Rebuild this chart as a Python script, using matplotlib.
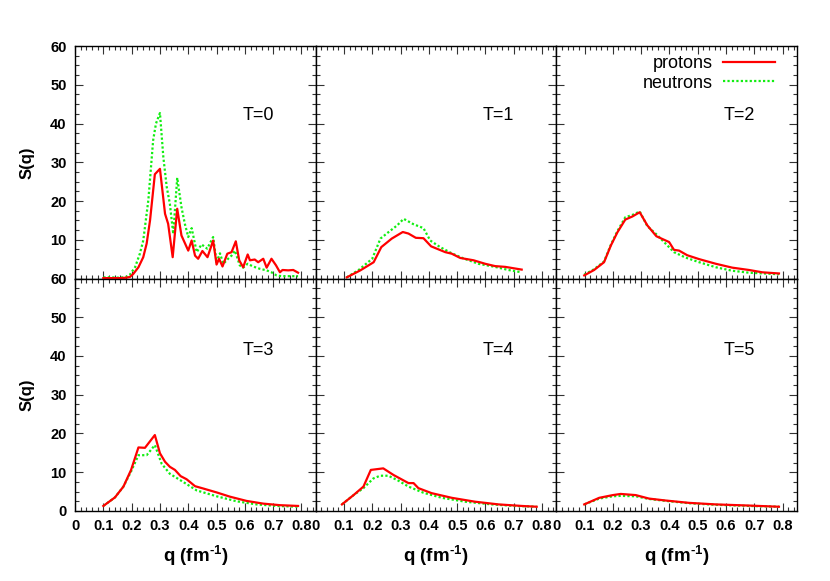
import numpy as np
import matplotlib
matplotlib.use("Agg")
import matplotlib.pyplot as plt
from matplotlib.ticker import MultipleLocator

plt.rcParams['font.family'] = ['Liberation Sans', 'DejaVu Sans']
plt.rcParams['mathtext.fontset'] = 'custom'
plt.rcParams['mathtext.rm'] = 'Liberation Sans:bold'
plt.rcParams['mathtext.bf'] = 'Liberation Sans:bold'

temps = ["T=0", "T=1", "T=2", "T=3", "T=4", "T=5"]

# protons: (q, S(q)) per temperature
q_p0 = [0.10, 0.13, 0.16, 0.18, 0.194, 0.206, 0.224, 0.241, 0.253, 0.265, 0.282, 0.30, 0.318, 0.329, 0.345,
        0.361, 0.376, 0.40, 0.412, 0.424, 0.435, 0.45, 0.468, 0.488, 0.50, 0.509, 0.521, 0.538, 0.553,
        0.568, 0.58, 0.594, 0.61, 0.618, 0.635, 0.647, 0.665, 0.677, 0.694, 0.71, 0.724, 0.733, 0.753,
        0.771, 0.788]
s_p0 = [0.1, 0.1, 0.1, 0.2, 0.4, 1.2, 2.9, 5.5, 9.0, 15.0, 26.9, 28.3, 16.7, 14.1, 5.5,
        18.0, 11.1, 7.2, 9.8, 5.9, 5.1, 7.1, 5.5, 9.8, 3.6, 5.1, 3.1, 6.4, 6.8,
        9.6, 4.7, 2.9, 6.2, 4.7, 4.9, 4.2, 5.1, 2.8, 5.1, 3.4, 1.6, 2.2, 2.1,
        2.2, 1.5]
q_p1 = [0.11, 0.158, 0.205, 0.232, 0.269, 0.308, 0.328, 0.354, 0.381, 0.408, 0.458, 0.481, 0.511, 0.558,
        0.599, 0.634, 0.67, 0.728]
s_p1 = [0.3, 2.1, 4.2, 8.1, 10.3, 12.0, 11.6, 10.5, 10.4, 8.3, 6.8, 6.4, 5.3, 4.7,
        3.8, 3.2, 3.0, 2.3]
q_p2 = [0.099, 0.134, 0.169, 0.193, 0.216, 0.244, 0.269, 0.295, 0.322, 0.354, 0.381, 0.399, 0.416, 0.434,
        0.463, 0.505, 0.564, 0.622, 0.681, 0.728, 0.787]
s_p2 = [0.8, 2.2, 4.2, 8.5, 11.9, 15.2, 16.0, 17.1, 13.7, 10.9, 10.0, 9.4, 7.4, 7.2,
        6.0, 5.0, 3.8, 2.8, 2.2, 1.6, 1.3]
q_p3 = [0.10, 0.141, 0.171, 0.198, 0.224, 0.247, 0.282, 0.30, 0.318, 0.335, 0.353, 0.373, 0.394, 0.424,
        0.453, 0.50, 0.547, 0.606, 0.665, 0.724, 0.788]
s_p3 = [1.3, 3.5, 6.3, 10.6, 16.4, 16.3, 19.6, 14.9, 12.7, 11.4, 10.6, 9.0, 8.2, 6.4,
        5.8, 4.8, 3.7, 2.6, 1.9, 1.5, 1.3]
q_p4 = [0.093, 0.134, 0.169, 0.195, 0.239, 0.275, 0.328, 0.346, 0.363, 0.41, 0.481, 0.563, 0.646, 0.728,
        0.781]
s_p4 = [1.7, 4.1, 6.3, 10.6, 11.0, 9.3, 7.2, 7.2, 5.9, 4.6, 3.4, 2.4, 1.7, 1.3,
        1.1]
q_p5 = [0.099, 0.152, 0.20, 0.228, 0.281, 0.328, 0.387, 0.469, 0.563, 0.681, 0.787]
s_p5 = [1.7, 3.4, 4.1, 4.4, 4.1, 3.2, 2.7, 2.1, 1.7, 1.4, 1.1]

# neutrons
q_n0 = [0.10, 0.13, 0.16, 0.18, 0.194, 0.212, 0.229, 0.241, 0.259, 0.276, 0.286, 0.30, 0.312, 0.324,
        0.335, 0.347, 0.361, 0.376, 0.388, 0.40, 0.412, 0.43, 0.447, 0.467, 0.488, 0.50, 0.512, 0.524,
        0.541, 0.553, 0.565, 0.582, 0.594, 0.61, 0.629, 0.653, 0.677, 0.694, 0.712, 0.729, 0.759, 0.788]
s_n0 = [0.3, 0.3, 0.2, 0.4, 1.0, 2.9, 6.4, 9.8, 20.2, 35.7, 40.0, 42.7, 31.3, 23.6,
        19.3, 11.5, 26.0, 18.4, 14.1, 10.7, 13.0, 6.8, 8.8, 7.7, 10.7, 4.2, 6.5, 3.8,
        5.1, 5.9, 7.2, 3.4, 2.8, 3.8, 3.1, 2.5, 2.1, 1.6, 0.8, 0.6, 0.6, 0.6]
q_n1 = [0.11, 0.152, 0.20, 0.229, 0.258, 0.288, 0.311, 0.346, 0.381, 0.405, 0.44, 0.481, 0.522, 0.575,
        0.634, 0.681, 0.728]
s_n1 = [0.3, 2.2, 5.1, 10.3, 12.0, 13.7, 15.4, 14.0, 13.0, 9.8, 8.1, 6.5, 5.2, 3.8,
        3.0, 2.2, 1.6]
q_n2 = [0.099, 0.134, 0.169, 0.193, 0.216, 0.244, 0.269, 0.295, 0.322, 0.354, 0.381, 0.416, 0.457, 0.505,
        0.564, 0.622, 0.681, 0.787]
s_n2 = [1.0, 2.4, 4.4, 8.7, 12.2, 15.8, 16.4, 17.3, 13.5, 11.4, 9.4, 6.8, 5.4, 4.2,
        2.9, 2.0, 1.5, 1.1]
q_n3 = [0.10, 0.141, 0.171, 0.198, 0.224, 0.253, 0.282, 0.306, 0.335, 0.382, 0.43, 0.50, 0.571, 0.641,
        0.712, 0.788]
s_n3 = [1.3, 3.5, 6.3, 10.2, 14.4, 14.4, 17.0, 12.2, 9.6, 7.5, 5.3, 3.8, 2.5, 1.7,
        1.3, 1.1]
q_n4 = [0.093, 0.134, 0.169, 0.204, 0.228, 0.257, 0.293, 0.328, 0.381, 0.446, 0.528, 0.622, 0.705, 0.781]
s_n4 = [1.7, 4.1, 5.9, 8.4, 9.1, 9.1, 7.8, 6.3, 4.7, 3.4, 2.4, 1.7, 1.3, 1.1]
q_n5 = [0.099, 0.152, 0.20, 0.228, 0.281, 0.328, 0.387, 0.469, 0.563, 0.681, 0.787]
s_n5 = [1.7, 3.2, 3.8, 3.9, 3.8, 3.1, 2.6, 2.0, 1.6, 1.3, 1.1]

protons = [(q_p0, s_p0), (q_p1, s_p1), (q_p2, s_p2), (q_p3, s_p3), (q_p4, s_p4), (q_p5, s_p5)]
neutrons = [(q_n0, s_n0), (q_n1, s_n1), (q_n2, s_n2), (q_n3, s_n3), (q_n4, s_n4), (q_n5, s_n5)]

xticks = [0, 0.1, 0.2, 0.3, 0.4, 0.5, 0.6, 0.7, 0.8]
yticks = [0, 10, 20, 30, 40, 50, 60]

fig, axes = plt.subplots(2, 3, figsize=(8.3, 5.81), dpi=100)
fig.subplots_adjust(left=0.0904, right=0.960, top=0.9208, bottom=0.1205, wspace=0, hspace=0)

for i, ax in enumerate(axes.flat):
    row, col = divmod(i, 3)
    qp, sp = protons[i]
    qn, sn = neutrons[i]
    ax.plot(qp, sp, color="#ff0000", lw=1.6, label="protons", zorder=3)
    ax.plot(qn, sn, color="#11ee11", lw=1.6, ls=(0, (1, 1)), label="neutrons", zorder=2)
    ax.set_xlim(0, 0.85)
    ax.set_ylim(0, 60)
    ax.set_xticks(xticks)
    ax.set_yticks(yticks)
    ax.xaxis.set_minor_locator(MultipleLocator(0.02))
    ax.yaxis.set_minor_locator(MultipleLocator(2.5))
    ax.tick_params(which="both", direction="in", top=True, right=True, color="#333333", width=0.8)
    ax.tick_params(which="major", length=6)
    ax.tick_params(which="minor", length=3)
    for sp_ in ax.spines.values():
        sp_.set_linewidth(1.0)
    if row == 1:
        ax.set_xticklabels([f"{t:g}" for t in xticks], fontsize=10.5, fontweight="bold")
        ax.set_xlabel("q (fm$^{\\text{-1}}$)", fontsize=13.5, fontweight="bold", labelpad=7)
    else:
        ax.set_xticklabels([])
    if col == 0:
        labels = [str(t) for t in yticks]
        if row == 0:
            labels[0] = ""
        ax.set_yticklabels(labels, fontsize=10.5, fontweight="bold")
        ax.set_ylabel("S(q)", fontsize=12, fontweight="bold", labelpad=11)
    else:
        ax.set_yticklabels([])
    ax.tick_params(axis="both", pad=6)
    ytxt = 0.70 if row == 0 else 0.69
    ax.text(0.76, ytxt, temps[i], transform=ax.transAxes, ha="center", va="center", fontsize=13)

axes[0, 2].legend(loc="upper right", bbox_to_anchor=(0.947, 1.0), frameon=False, markerfirst=False,
                  fontsize=13, handlelength=2.9, handletextpad=0.55, labelspacing=0.15,
                  borderpad=0.5, borderaxespad=0.0)

fig.savefig("out.png", dpi=100)
